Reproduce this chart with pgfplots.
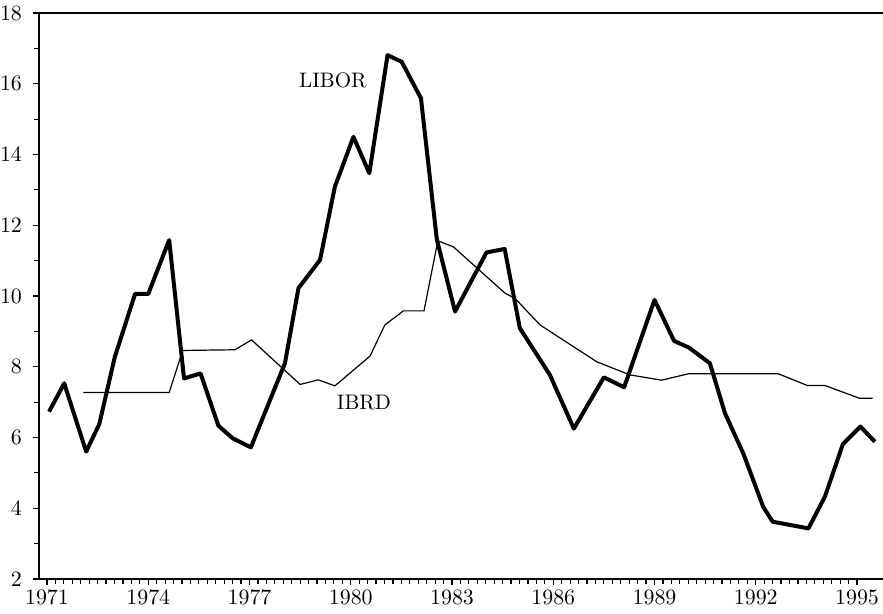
\documentclass[border=0pt]{standalone}
\usepackage{pgfplots}
\pgfplotsset{compat=1.18}
\begin{document}
\begin{tikzpicture}
\useasboundingbox (-19.5pt,-17.5pt) rectangle (422pt,289.5pt);
\begin{axis}[
  at={(0,0)}, anchor=south west, scale only axis,
  width=422pt, height=283pt,
  xmin=1970.763, xmax=1995.77, ymin=2, ymax=18,
  axis lines*=left,
  axis line style={line width=0.7pt},
  xtick={1971,1974,1977,1980,1983,1986,1989,1992,1995},
  minor x tick num=11,
  ytick={2,4,...,18}, minor y tick num=1,
  tick align=outside,
  major tick length=3pt, minor tick length=2.5pt,
  tick style={line width=0.6pt, black},
  tick label style={font=\fontsize{10.8}{13}\selectfont},
  xticklabel style={/pgf/number format/1000 sep={}, yshift=1pt},
  yticklabel style={xshift=-2pt},
  clip=false,
]
\addplot[black, line width=2pt, line join=round] coordinates {
(1971.06,6.73) (1971.51,7.53) (1972.16,5.60) (1972.55,6.38) (1973.01,8.28)
(1973.61,10.06) (1974.00,10.06) (1974.62,11.58) (1975.06,7.67) (1975.55,7.81)
(1976.08,6.33) (1976.50,5.98) (1977.04,5.72) (1978.05,8.10) (1978.45,10.22)
(1979.09,11.02) (1979.53,13.09) (1980.08,14.50) (1980.55,13.47) (1981.09,16.81)
(1981.51,16.62) (1982.08,15.59) (1982.55,11.60) (1983.09,9.56) (1984.02,11.23)
(1984.56,11.33) (1985.01,9.09) (1985.90,7.77) (1986.61,6.25) (1987.50,7.70)
(1988.10,7.42) (1989.00,9.89) (1989.58,8.73) (1990.02,8.54) (1990.64,8.10)
(1991.09,6.68) (1991.63,5.55) (1992.22,4.04) (1992.50,3.62) (1993.56,3.43)
(1994.05,4.33) (1994.58,5.81) (1995.10,6.31) (1995.53,5.88)
};
\addplot[black, line width=0.6pt, line join=round] coordinates {
(1972.08,7.27) (1974.62,7.27) (1975.02,8.46) (1976.57,8.48) (1977.06,8.76)
(1978.50,7.50) (1979.04,7.63) (1979.53,7.46) (1980.57,8.30) (1981.01,9.18)
(1981.56,9.58) (1982.17,9.58) (1982.58,11.56) (1983.04,11.39) (1984.57,10.08)
(1984.87,9.93) (1985.61,9.18) (1987.29,8.14) (1988.27,7.77) (1989.21,7.62)
(1990.00,7.80) (1992.67,7.80) (1993.53,7.47) (1994.05,7.47) (1995.07,7.11)
(1995.46,7.11)
};
\draw[line width=0.7pt] (rel axis cs:0,1) -- (rel axis cs:1,1);
\node[font=\fontsize{10.5}{12}\selectfont] at (axis cs:1979.47,16.1) {LIBOR};
\node[font=\fontsize{10.5}{12}\selectfont] at (axis cs:1980.39,6.98) {IBRD};
\end{axis}
\end{tikzpicture}
\end{document}
